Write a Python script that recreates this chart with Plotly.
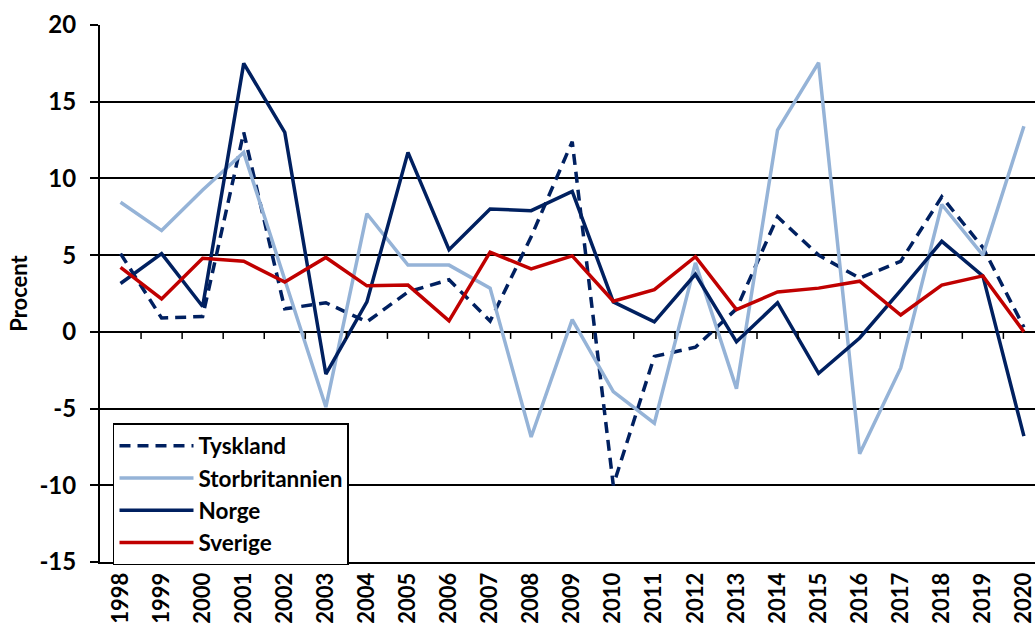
import plotly.graph_objects as go

years = [str(y) for y in range(1998, 2021)]

tyskland = [5.1, 0.9, 1.0, 13.0, 1.5, 1.9, 0.65, 2.6, 3.4, 0.7, 6.2, 12.4, -10.0,
            -1.6, -1.0, 1.5, 7.5, 5.0, 3.5, 4.6, 8.8, 5.5, 0.3]
storbritannien = [8.45, 6.6, 9.25, 11.7, 3.4, -4.9, 7.7, 4.35, 4.35, 2.85, -6.85, 0.8, -3.9,
                  -5.95, 4.5, -3.7, 13.15, 17.55, -7.95, -2.35, 8.3, 5.0, 13.4]
norge = [3.15, 5.1, 1.65, 17.5, 13.0, -2.75, 1.95, 11.7, 5.35, 8.0, 7.9, 9.15, 1.95,
         0.65, 3.75, -0.65, 1.9, -2.7, -0.4, 2.7, 5.9, 3.65, -6.8]
sverige = [4.2, 2.15, 4.8, 4.6, 3.25, 4.85, 3.0, 3.05, 0.72, 5.2, 4.1, 4.95, 2.0,
           2.75, 4.9, 1.45, 2.6, 2.85, 3.3, 1.1, 3.05, 3.65, 0.0]

y_tickvals = [-15, -10, -5, 0, 5, 10, 15, 20]
y_ticktext = ["-15", "-10", "-5", "0", "5", "10", "15", "20"]

series = [
    ("Tyskland", tyskland, "#002060", "11px,7px"),
    ("Storbritannien", storbritannien, "#95B3D7", "solid"),
    ("Norge", norge, "#002060", "solid"),
    ("Sverige", sverige, "#C00000", "solid"),
]

FONT = "Lato"

fig = go.Figure()
for name, vals, color, dash in series:
    fig.add_trace(go.Scatter(
        x=years, y=vals, name=name, mode="lines",
        line=dict(color=color, width=3.5, dash=dash),
    ))

# category tick marks on the zero line, between categories
shapes = []
for i in range(len(years) - 1):
    shapes.append(dict(type="line", xref="x", yref="y",
                       x0=i + 0.5, x1=i + 0.5, y0=0, y1=-0.46,
                       line=dict(color="black", width=1.5)))

fig.update_layout(
    width=1035, height=632,
    margin=dict(l=100, r=0, t=25, b=70),
    paper_bgcolor="white", plot_bgcolor="white",
    font=dict(family=FONT, size=22, color="black"),
    showlegend=True,
    legend=dict(
        x=0.0139, y=0.2588, xanchor="left", yanchor="top",
        bgcolor="white", bordercolor="black", borderwidth=1.5,
        font=dict(family=FONT, size=22.5, color="black", weight="bold"),
        itemwidth=74, tracegroupgap=0,
    ),
    shapes=shapes,
)

fig.update_xaxes(
    type="category", range=[-0.5, 22.27],
    tickvals=years, ticktext=years, tickangle=-90,
    tickfont=dict(family=FONT, size=22, color="black", weight="bold"),
    showgrid=False, zeroline=False,
    showline=True, linecolor="black", linewidth=2,
    ticks="", fixedrange=True,
)
fig.update_yaxes(
    range=[-15, 20], tickvals=y_tickvals, ticktext=y_ticktext,
    tickfont=dict(family=FONT, size=24, color="black", weight="bold"),
    ticklabelstandoff=9,
    showgrid=True, gridcolor="black", gridwidth=1.5,
    zeroline=True, zerolinecolor="black", zerolinewidth=2,
    showline=True, linecolor="black", linewidth=2,
    ticks="outside", ticklen=8, tickcolor="black", tickwidth=1.5,
    title=dict(text="Procent", font=dict(family=FONT, size=22, color="black", weight="bold"), standoff=6),
    fixedrange=True,
)

fig.write_html("out.html", config={"displayModeBar": False},
               post_script="document.body.style.margin='0';")
